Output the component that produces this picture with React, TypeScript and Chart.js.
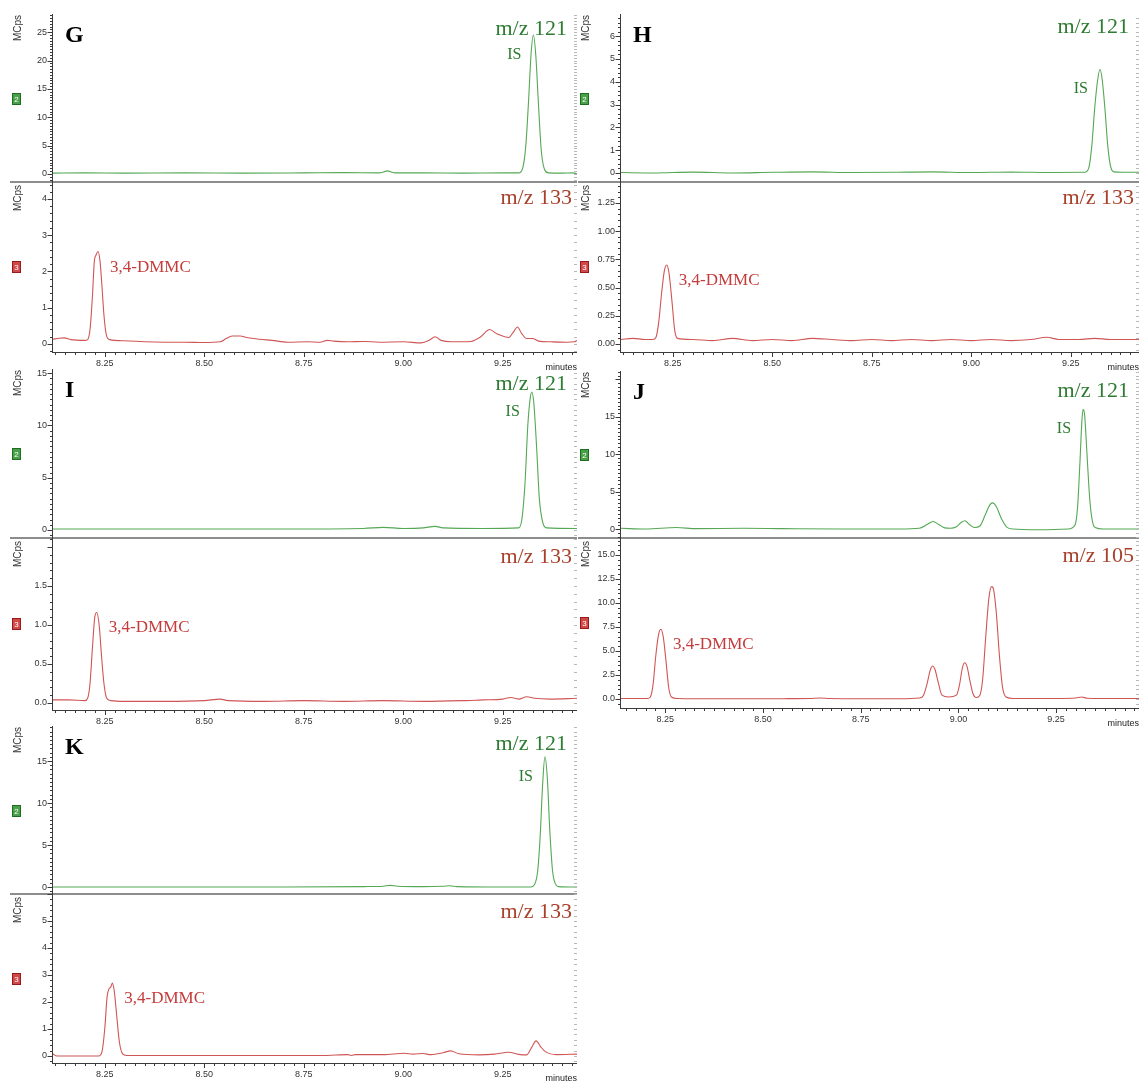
import React, { useEffect, useRef } from 'react';
import { Chart, registerables } from 'chart.js';

Chart.register(...registerables);

if (typeof document !== 'undefined') {
  document.documentElement.style.overflow = 'hidden';
  document.body.style.overflow = 'hidden';
}

type Pt = [number, number];

// ---- DATA: [retention time (min), intensity (MCps)] ----
const G_MZ121: Pt[] = [
  [8.12, 0.15], [8.2, 0.2], [8.3, 0.15], [8.45, 0.2], [8.6, 0.15], [8.75, 0.2], [8.85, 0.25], [8.94, 0.2],
  [8.952, 0.4], [8.96, 0.55], [8.968, 0.4], [8.98, 0.2], [9.05, 0.2], [9.15, 0.15], [9.25, 0.2], [9.29, 0.2],
  [9.3, 1.0], [9.308, 5], [9.315, 13], [9.321, 21], [9.327, 24.5], [9.333, 21], [9.34, 12], [9.347, 4],
  [9.355, 0.8], [9.365, 0.2], [9.4, 0.15], [9.425, 0.2], [9.4366, 0.05],
];
const G_MZ133: Pt[] = [
  [8.12, 0.13], [8.135, 0.16], [8.148, 0.17], [8.165, 0.12], [8.2, 0.1], [8.207, 0.12], [8.213, 0.4],
  [8.219, 1.3], [8.224, 2.3], [8.228, 2.45], [8.233, 2.55], [8.238, 2.3], [8.243, 1.6], [8.248, 0.8],
  [8.254, 0.25], [8.262, 0.12], [8.3, 0.09], [8.35, 0.06], [8.4, 0.05], [8.45, 0.05], [8.5, 0.04],
  [8.54, 0.06], [8.555, 0.15], [8.57, 0.22], [8.59, 0.22], [8.61, 0.17], [8.64, 0.13], [8.67, 0.1],
  [8.71, 0.05], [8.76, 0.06], [8.79, 0.05], [8.81, 0.1], [8.825, 0.08], [8.86, 0.06], [8.9, 0.07],
  [8.94, 0.05], [9.0, 0.06], [9.045, 0.03], [9.065, 0.1], [9.08, 0.2], [9.095, 0.1], [9.12, 0.06],
  [9.17, 0.07], [9.195, 0.2], [9.217, 0.4], [9.235, 0.28], [9.255, 0.2], [9.265, 0.18], [9.278, 0.35],
  [9.287, 0.47], [9.297, 0.3], [9.31, 0.15], [9.325, 0.15], [9.34, 0.08], [9.37, 0.06], [9.41, 0.05],
  [9.43, 0.06], [9.4366, 0.1],
];
const H_MZ121: Pt[] = [
  [8.12, 0.02], [8.2, 0.0], [8.3, 0.04], [8.4, 0.0], [8.5, 0.03], [8.6, 0.05], [8.7, 0.02], [8.8, 0.03],
  [8.9, 0.05], [9.0, 0.02], [9.1, 0.04], [9.2, 0.02], [9.285, 0.03], [9.295, 0.2], [9.303, 1.2],
  [9.31, 2.8], [9.317, 4.0], [9.3235, 4.55], [9.329, 4.1], [9.336, 2.8], [9.343, 1.2], [9.35, 0.3],
  [9.358, 0.05], [9.38, 0.03], [9.4215, 0.03],
];
const H_MZ133: Pt[] = [
  [8.12, 0.04], [8.15, 0.05], [8.18, 0.04], [8.2, 0.04], [8.208, 0.06], [8.215, 0.2], [8.222, 0.45],
  [8.229, 0.65], [8.235, 0.7], [8.241, 0.62], [8.248, 0.38], [8.255, 0.12], [8.262, 0.05], [8.3, 0.04],
  [8.35, 0.03], [8.4, 0.05], [8.45, 0.03], [8.5, 0.04], [8.55, 0.03], [8.6, 0.05], [8.65, 0.04],
  [8.7, 0.03], [8.75, 0.04], [8.8, 0.03], [8.85, 0.04], [8.9, 0.03], [8.95, 0.04], [9.0, 0.03],
  [9.05, 0.04], [9.1, 0.03], [9.15, 0.04], [9.19, 0.06], [9.22, 0.04], [9.27, 0.04], [9.31, 0.05],
  [9.35, 0.04], [9.4215, 0.04],
];
const I_MZ121: Pt[] = [
  [8.12, 0.1], [8.3, 0.1], [8.5, 0.1], [8.7, 0.1], [8.9, 0.15], [8.95, 0.25], [9.0, 0.15], [9.05, 0.2],
  [9.08, 0.35], [9.1, 0.2], [9.2, 0.15], [9.29, 0.2], [9.298, 1.0], [9.306, 4.5], [9.313, 10],
  [9.319, 12.6], [9.323, 13.2], [9.328, 12.2], [9.335, 8], [9.342, 3], [9.35, 0.8], [9.36, 0.2],
  [9.4366, 0.15],
];
const I_MZ133: Pt[] = [
  [8.12, 0.04], [8.16, 0.04], [8.2, 0.03], [8.207, 0.06], [8.213, 0.25], [8.219, 0.7], [8.225, 1.1],
  [8.23, 1.16], [8.236, 1.0], [8.242, 0.6], [8.248, 0.25], [8.255, 0.06], [8.265, 0.03], [8.3, 0.02],
  [8.4, 0.02], [8.5, 0.03], [8.54, 0.05], [8.56, 0.03], [8.65, 0.02], [8.75, 0.03], [8.85, 0.02],
  [8.95, 0.03], [9.05, 0.02], [9.15, 0.03], [9.2, 0.04], [9.25, 0.05], [9.27, 0.07], [9.29, 0.05],
  [9.31, 0.08], [9.33, 0.06], [9.37, 0.05], [9.4366, 0.06],
];
const J_MZ121: Pt[] = [
  [8.137, 0.1], [8.2, 0.0], [8.279, 0.2], [8.33, 0.05], [8.45, 0.1], [8.55, 0.05], [8.7, 0.0], [8.85, 0.0],
  [8.9, 0.1], [8.92, 0.6], [8.935, 1.0], [8.95, 0.6], [8.965, 0.15], [8.98, 0.1], [8.995, 0.3],
  [9.008, 0.9], [9.017, 1.1], [9.028, 0.6], [9.042, 0.2], [9.055, 0.4], [9.068, 1.8], [9.08, 3.2],
  [9.088, 3.5], [9.097, 3.0], [9.11, 1.4], [9.123, 0.3], [9.14, 0.0], [9.2, -0.1], [9.28, 0.0],
  [9.298, 0.5], [9.305, 3], [9.311, 9], [9.316, 14.5], [9.319, 16.0], [9.323, 15.2], [9.329, 10],
  [9.336, 4], [9.343, 1], [9.35, 0.2], [9.37, 0.0], [9.462, 0.0],
];
const J_MZ105: Pt[] = [
  [8.137, 0.05], [8.18, 0.05], [8.205, 0.05], [8.212, 0.2], [8.219, 1.5], [8.226, 4.5], [8.233, 6.7],
  [8.239, 7.26], [8.245, 6.5], [8.252, 4.0], [8.259, 1.2], [8.266, 0.2], [8.28, 0.05], [8.4, 0.02],
  [8.55, 0.03], [8.62, 0.05], [8.646, 0.1], [8.67, 0.05], [8.75, 0.03], [8.85, 0.03], [8.9, 0.1],
  [8.911, 0.4], [8.92, 1.6], [8.928, 3.0], [8.934, 3.44], [8.94, 3.1], [8.948, 1.8], [8.958, 0.4],
  [8.975, 0.2], [8.995, 0.4], [9.003, 1.5], [9.01, 3.2], [9.016, 3.78], [9.022, 3.4], [9.03, 1.8],
  [9.037, 0.6], [9.046, 0.16], [9.055, 0.4], [9.062, 2.0], [9.07, 6.5], [9.078, 10.5], [9.085, 11.7],
  [9.09, 11.4], [9.097, 9.0], [9.105, 4.5], [9.113, 1.2], [9.122, 0.2], [9.14, 0.05], [9.25, 0.05],
  [9.3, 0.1], [9.315, 0.2], [9.33, 0.08], [9.4, 0.05], [9.462, 0.05],
];
const K_MZ121: Pt[] = [
  [8.12, 0.0], [8.3, 0.0], [8.5, 0.0], [8.7, 0.0], [8.9, 0.05], [8.95, 0.1], [8.967, 0.2], [8.985, 0.1],
  [9.05, 0.05], [9.1, 0.1], [9.117, 0.15], [9.135, 0.05], [9.25, 0.0], [9.32, 0.0], [9.33, 0.3],
  [9.338, 2], [9.344, 6], [9.35, 12], [9.356, 15.5], [9.362, 13], [9.368, 7], [9.375, 2], [9.382, 0.4],
  [9.39, 0.05], [9.4366, 0.0],
];
const K_MZ133: Pt[] = [
  [8.12, 0.07], [8.13, 0.0], [8.2, 0.0], [8.235, 0.0], [8.243, 0.15], [8.25, 1.0], [8.256, 2.2],
  [8.261, 2.5], [8.265, 2.55], [8.269, 2.7], [8.274, 2.4], [8.28, 1.5], [8.287, 0.5], [8.295, 0.08],
  [8.305, 0.02], [8.4, 0.02], [8.5, 0.02], [8.6, 0.02], [8.7, 0.02], [8.8, 0.02], [8.86, 0.05],
  [8.87, 0.02], [8.88, 0.05], [8.95, 0.05], [9.002, 0.1], [9.025, 0.07], [9.049, 0.09], [9.07, 0.05],
  [9.1, 0.12], [9.119, 0.19], [9.14, 0.08], [9.19, 0.04], [9.23, 0.07], [9.264, 0.14], [9.29, 0.06],
  [9.31, 0.04], [9.322, 0.3], [9.334, 0.56], [9.345, 0.35], [9.357, 0.16], [9.385, 0.05], [9.4366, 0.07],
];

// ---- TICKS ----
const X_TICKS = [8.25, 8.5, 8.75, 9.0, 9.25];
const X_TICK_LABELS = ['8.25', '8.50', '8.75', '9.00', '9.25'];
const G_TOP_YTICKS = [0, 5, 10, 15, 20, 25];
const G_BOT_YTICKS = [0, 1, 2, 3, 4];
const H_TOP_YTICKS = [0, 1, 2, 3, 4, 5, 6];
const H_BOT_YTICKS = [0, 0.25, 0.5, 0.75, 1.0, 1.25];
const I_TOP_YTICKS = [0, 5, 10, 15];
const I_BOT_YTICKS = [0, 0.5, 1.0, 1.5];
const J_TOP_YTICKS = [0, 5, 10, 15];
const J_BOT_YTICKS = [0, 2.5, 5, 7.5, 10, 12.5, 15];
const K_TOP_YTICKS = [0, 5, 10, 15];
const K_BOT_YTICKS = [0, 1, 2, 3, 4, 5];

const X_SPAN_STD: [number, number] = [8.12, 9.4366];
const X_SPAN_H: [number, number] = [8.12, 9.4215];
const X_SPAN_J: [number, number] = [8.137, 9.462];

interface Sub {
  col: 0 | 1; top: number; bottom: number; isTop: boolean;
  data: Pt[]; ySpan: [number, number]; xSpan: [number, number];
  yTicks: number[]; yDigits: number; yMinor: number;
  letter?: string; title: string; titleDy: number;
  peakLabel: string; peakAt: number; icon: string; minutes: boolean;
}

const SUBS: Sub[] = [
  { col: 0, top: 15, bottom: 182, isTop: true, data: G_MZ121, ySpan: [-1.41, 28.04], xSpan: X_SPAN_STD, yTicks: G_TOP_YTICKS, yDigits: 0, yMinor: 0.5, letter: 'G', title: 'm/z 121', titleDy: 20, peakLabel: 'IS', peakAt: 9.327, icon: '2', minutes: false },
  { col: 0, top: 182, bottom: 352, isTop: false, data: G_MZ133, ySpan: [-0.221, 4.469], xSpan: X_SPAN_STD, yTicks: G_BOT_YTICKS, yDigits: 0, yMinor: 0.2, title: 'm/z 133', titleDy: 22, peakLabel: '3,4-DMMC', peakAt: 8.233, icon: '3', minutes: true },
  { col: 1, top: 15, bottom: 182, isTop: true, data: H_MZ121, ySpan: [-0.395, 6.93], xSpan: X_SPAN_H, yTicks: H_TOP_YTICKS, yDigits: 0, yMinor: 0.2, letter: 'H', title: 'm/z 121', titleDy: 18, peakLabel: 'IS', peakAt: 9.3235, icon: '2', minutes: false },
  { col: 1, top: 182, bottom: 352, isTop: false, data: H_MZ133, ySpan: [-0.071, 1.436], xSpan: X_SPAN_H, yTicks: H_BOT_YTICKS, yDigits: 2, yMinor: 0.05, title: 'm/z 133', titleDy: 22, peakLabel: '3,4-DMMC', peakAt: 8.235, icon: '3', minutes: true },
  { col: 0, top: 370, bottom: 538, isTop: true, data: I_MZ121, ySpan: [-0.766, 15.31], xSpan: X_SPAN_STD, yTicks: I_TOP_YTICKS, yDigits: 0, yMinor: 0.5, letter: 'I', title: 'm/z 121', titleDy: 20, peakLabel: 'IS', peakAt: 9.323, icon: '2', minutes: false },
  { col: 0, top: 538, bottom: 710, isTop: false, data: I_MZ133, ySpan: [-0.09, 2.115], xSpan: X_SPAN_STD, yTicks: I_BOT_YTICKS, yDigits: 1, yMinor: 0.1, title: 'm/z 133', titleDy: 25, peakLabel: '3,4-DMMC', peakAt: 8.23, icon: '3', minutes: false },
  { col: 1, top: 372, bottom: 538, isTop: true, data: J_MZ121, ySpan: [-1.2, 21.0], xSpan: X_SPAN_J, yTicks: J_TOP_YTICKS, yDigits: 0, yMinor: 0.5, letter: 'J', title: 'm/z 121', titleDy: 25, peakLabel: 'IS', peakAt: 9.319, icon: '2', minutes: false },
  { col: 1, top: 538, bottom: 708, isTop: false, data: J_MZ105, ySpan: [-0.94, 16.77], xSpan: X_SPAN_J, yTicks: J_BOT_YTICKS, yDigits: 1, yMinor: 0.5, title: 'm/z 105', titleDy: 24, peakLabel: '3,4-DMMC', peakAt: 8.239, icon: '3', minutes: true },
  { col: 0, top: 727, bottom: 894, isTop: true, data: K_MZ121, ySpan: [-0.83, 19.05], xSpan: X_SPAN_STD, yTicks: K_TOP_YTICKS, yDigits: 0, yMinor: 0.5, letter: 'K', title: 'm/z 121', titleDy: 23, peakLabel: 'IS', peakAt: 9.356, icon: '2', minutes: false },
  { col: 0, top: 894, bottom: 1063, isTop: false, data: K_MZ133, ySpan: [-0.26, 6.0], xSpan: X_SPAN_STD, yTicks: K_BOT_YTICKS, yDigits: 0, yMinor: 0.2, title: 'm/z 133', titleDy: 24, peakLabel: '3,4-DMMC', peakAt: 8.269, icon: '3', minutes: true },
];

// ---- LAYOUT / STYLE ----
const COLS = [
  { left: 0, width: 580, plotRight: 577 },
  { left: 568, width: 571, plotRight: 1139 },
];
const AXIS_W = 53;
const PAD_TOP = 12;
const X_AXIS_H = 30;
const PAD_BOTTOM_TOP = 8;
const SANS = '"Liberation Sans", Arial, sans-serif';
const SERIF = '"Liberation Serif", "Times New Roman", serif';
const GREEN_LINE = '#55a855';
const RED_LINE = '#d05656';
const GREEN_TEXT = '#2e7b32';
const RED_TITLE = '#a8402a';
const RED_TEXT = '#c43c3c';

function geom(sub: Sub) {
  const col = COLS[sub.col];
  const h = sub.bottom - sub.top + PAD_TOP + (sub.isTop ? PAD_BOTTOM_TOP : X_AXIS_H);
  return { left: col.left, top: sub.top - PAD_TOP, w: col.width, h, padRight: col.width - (col.plotRight - col.left) };
}

function decorPlugin(sub: Sub) {
  return {
    id: 'decor',
    afterDraw(chart: any) {
      const ctx: CanvasRenderingContext2D = chart.ctx;
      const { left, right, top, bottom } = chart.chartArea;
      const ys = chart.scales.y;
      const xs = chart.scales.x;
      const line = (x1: number, y1: number, x2: number, y2: number) => {
        ctx.beginPath(); ctx.moveTo(x1, y1); ctx.lineTo(x2, y2); ctx.stroke();
      };
      ctx.save();
      if (sub.isTop) {
        ctx.strokeStyle = '#8c8c8c'; ctx.lineWidth = 2;
        line(10, bottom, right, bottom);
      }
      ctx.strokeStyle = '#3a3a3a'; ctx.lineWidth = 1;
      line(left - 0.5, top - 1, left - 0.5, bottom + (sub.isTop ? 2 : 0));
      const step = sub.yTicks[1] - sub.yTicks[0];
      const n0 = Math.ceil(sub.ySpan[0] / sub.yMinor - 1e-9);
      const n1 = Math.floor(sub.ySpan[1] / sub.yMinor + 1e-9);
      for (let n = n0; n <= n1; n++) {
        const v = n * sub.yMinor;
        const r = v / step;
        const major = Math.abs(r - Math.round(r)) < 1e-6;
        const py = Math.round(ys.getPixelForValue(v)) + 0.5;
        ctx.strokeStyle = '#3a3a3a';
        line(left - (major ? 5.5 : 3), py, left, py);
        ctx.strokeStyle = '#b8b8b8';
        line(right - 3, py, right, py);
      }
      if (!sub.isTop) {
        ctx.strokeStyle = '#3a3a3a';
        line(left - 1, bottom + 0.5, right, bottom + 0.5);
        const m0 = Math.ceil(xs.min / 0.025 - 1e-9);
        const m1 = Math.floor(xs.max / 0.025 + 1e-9);
        for (let n = m0; n <= m1; n++) {
          const px = Math.round(xs.getPixelForValue(n * 0.025)) + 0.5;
          line(px, bottom, px, bottom + (n % 10 === 0 ? 5 : 3));
        }
        if (sub.minutes) {
          ctx.fillStyle = '#222'; ctx.font = `9px ${SANS}`; ctx.textAlign = 'right'; ctx.textBaseline = 'alphabetic';
          ctx.fillText('minutes', right, bottom + 18);
        }
      }
      ctx.save();
      ctx.translate(18, top + (sub.isTop ? 13 : 16));
      ctx.rotate(-Math.PI / 2);
      ctx.fillStyle = '#333'; ctx.font = `10px ${SANS}`; ctx.textAlign = 'center'; ctx.textBaseline = 'middle';
      ctx.fillText('MCps', 0, 0);
      ctx.restore();
      const cy = Math.round((top + bottom) / 2);
      ctx.fillStyle = sub.isTop ? '#4aa04a' : '#d04848';
      ctx.fillRect(12, cy - 6, 9, 12);
      ctx.strokeStyle = sub.isTop ? '#1f6e1f' : '#9a1a1a'; ctx.lineWidth = 1;
      ctx.strokeRect(12.5, cy - 5.5, 8, 11);
      ctx.fillStyle = '#ffffff'; ctx.font = `8px ${SANS}`; ctx.textAlign = 'center'; ctx.textBaseline = 'middle';
      ctx.fillText(sub.icon, 16.5, cy + 0.5);
      if (sub.letter) {
        ctx.fillStyle = '#000'; ctx.font = `bold 24px ${SERIF}`; ctx.textAlign = 'left'; ctx.textBaseline = 'alphabetic';
        ctx.fillText(sub.letter, left + 12, top + 27);
      }
      ctx.fillStyle = sub.isTop ? GREEN_TEXT : RED_TITLE;
      ctx.font = `22px ${SERIF}`; ctx.textAlign = 'right'; ctx.textBaseline = 'alphabetic';
      ctx.fillText(sub.title, right - (sub.isTop ? 10 : 5), top + sub.titleDy);
      let best: Pt | null = null;
      for (const p of sub.data) {
        if (Math.abs(p[0] - sub.peakAt) < 0.03 && (!best || p[1] > best[1])) best = p;
      }
      if (best) {
        const ax = xs.getPixelForValue(best[0]);
        const ay = ys.getPixelForValue(best[1]);
        if (sub.isTop) {
          ctx.fillStyle = GREEN_TEXT; ctx.font = `16px ${SERIF}`; ctx.textAlign = 'right';
          ctx.fillText(sub.peakLabel, ax - 12, ay + 24);
        } else {
          ctx.fillStyle = RED_TEXT; ctx.font = `17px ${SERIF}`; ctx.textAlign = 'left';
          ctx.fillText(sub.peakLabel, ax + 12, ay + 20);
        }
      }
      ctx.restore();
    },
  };
}

function SubChart({ sub }: { sub: Sub }) {
  const ref = useRef<HTMLCanvasElement>(null);
  const g = geom(sub);
  useEffect(() => {
    const tickFont = { family: SANS, size: 9 };
    const chart = new Chart(ref.current as HTMLCanvasElement, {
      type: 'line',
      data: {
        datasets: [{
          data: sub.data.map(([x, y]) => ({ x, y })),
          borderColor: sub.isTop ? GREEN_LINE : RED_LINE,
          borderWidth: 1.1,
          pointRadius: 0,
          fill: false,
          cubicInterpolationMode: 'monotone',
        }],
      },
      options: {
        animation: false,
        responsive: false,
        maintainAspectRatio: false,
        devicePixelRatio: 1,
        events: [],
        layout: { padding: { top: PAD_TOP, left: 0, right: g.padRight, bottom: sub.isTop ? PAD_BOTTOM_TOP : 0 } },
        plugins: { legend: { display: false }, tooltip: { enabled: false } },
        scales: {
          x: {
            type: 'linear',
            min: sub.xSpan[0],
            max: sub.xSpan[1],
            display: !sub.isTop,
            grid: { display: false, drawTicks: false },
            border: { display: false },
            ticks: {
              font: tickFont, color: '#333', padding: 6, maxRotation: 0, autoSkip: false,
              callback: (v: any) => {
                const i = X_TICKS.findIndex((t) => Math.abs(t - Number(v)) < 1e-6);
                return i >= 0 ? X_TICK_LABELS[i] : '';
              },
            },
            afterBuildTicks: (s: any) => { s.ticks = X_TICKS.map((v) => ({ value: v })); },
            afterFit: (s: any) => {
              if (!sub.isTop) s.height = X_AXIS_H;
              s.paddingLeft = 0; s.paddingRight = 0;
            },
          },
          y: {
            type: 'linear',
            min: sub.ySpan[0],
            max: sub.ySpan[1],
            grid: { display: false, drawTicks: false },
            border: { display: false },
            ticks: {
              font: tickFont, color: '#333', padding: 6,
              callback: (v: any) => Number(v).toFixed(sub.yDigits),
            },
            afterBuildTicks: (s: any) => { s.ticks = sub.yTicks.map((v) => ({ value: v })); },
            afterFit: (s: any) => { s.width = AXIS_W; s.paddingTop = 0; s.paddingBottom = 0; },
          },
        },
      } as any,
      plugins: [decorPlugin(sub)],
    });
    return () => chart.destroy();
  }, []);
  return (
    <canvas
      ref={ref}
      width={g.w}
      height={g.h}
      style={{ position: 'absolute', left: g.left, top: g.top, width: g.w, height: g.h }}
    />
  );
}

export default function App() {
  return (
    <div style={{ position: 'absolute', left: 0, top: 0, width: 1139, height: 1082, overflow: 'hidden', background: '#fff' }}>
      {SUBS.map((s, i) => <SubChart key={i} sub={s} />)}
    </div>
  );
}
